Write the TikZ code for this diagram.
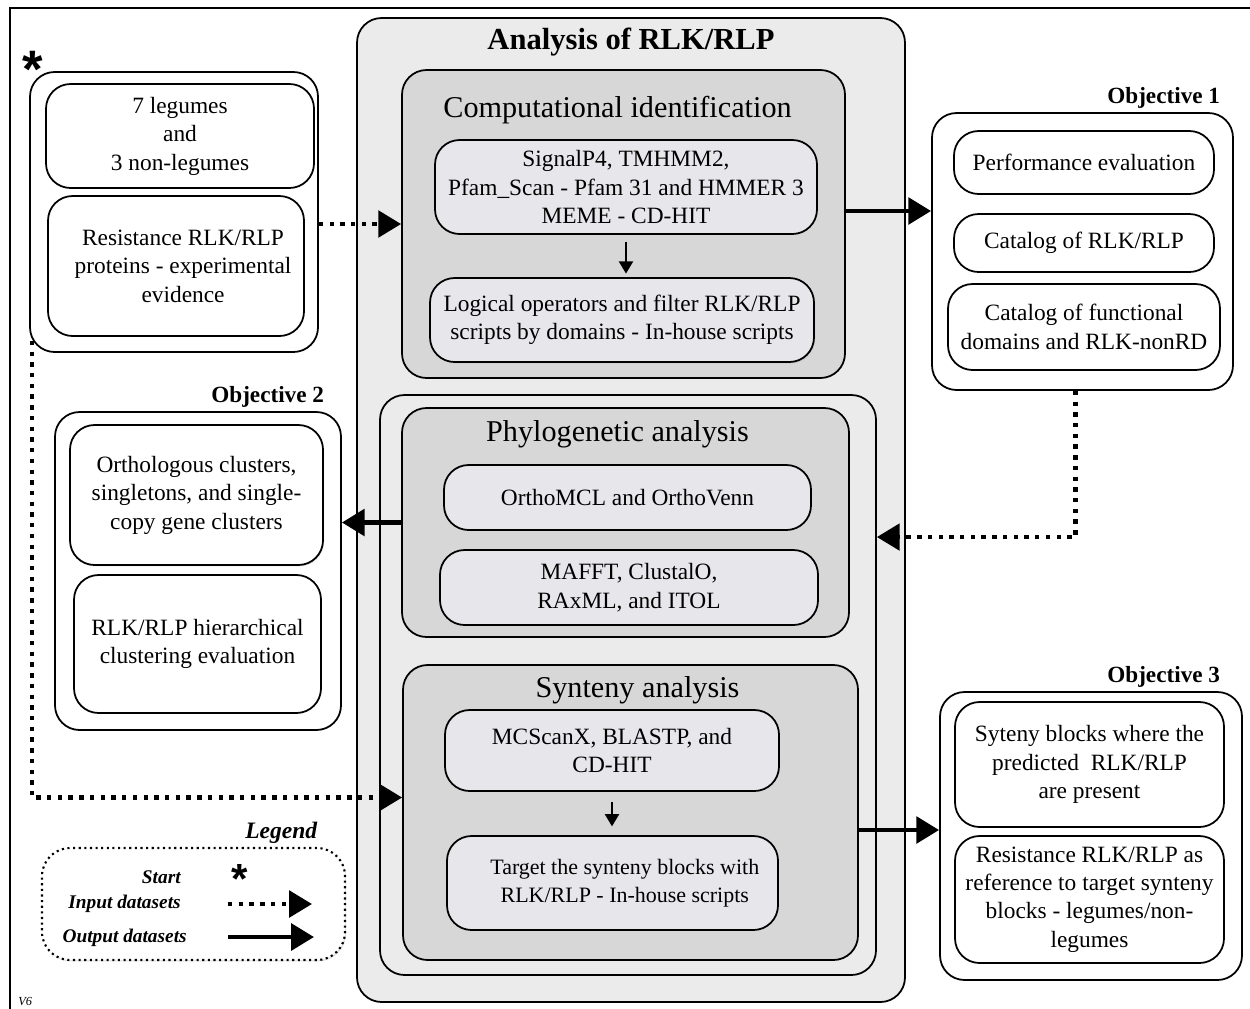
\documentclass[tikz,border=0pt]{standalone}
\usepackage{fontspec}
\setmainfont{Liberation Serif}
\setsansfont{Liberation Sans}
\usetikzlibrary{arrows.meta,shadows}
\definecolor{bigfill}{HTML}{EBEBEB}
\definecolor{secfill}{HTML}{D7D7D7}
\definecolor{toolfill}{HTML}{E7E7EB}

\begin{document}
\begin{tikzpicture}[
    x=0.02cm, y=-0.02cm,
    boxsize/.style 2 args={minimum width=#1*0.02cm, minimum height=#2*0.02cm},
    panel/.style={draw, line width=1pt, rounded corners=14pt, inner sep=0pt, fill=white},
    section/.style={panel, fill=secfill},
    tool/.style={panel, fill=toolfill, align=center, font=\fontsize{13.3}{16.2}\selectfont},
    result/.style={panel, align=center, font=\fontsize{13.3}{16.2}\selectfont},
    sectitle/.style={anchor=north, inner sep=0pt, font=\fontsize{17.2}{20}\selectfont},
    objlabel/.style={anchor=south east, inner sep=2pt, font=\bfseries\fontsize{13.2}{15}\selectfont},
    legitem/.style={anchor=east, inner sep=0pt, font=\bfseries\itshape\fontsize{11}{13}\selectfont},
    starmark/.style={inner sep=0pt, font=\sffamily\bfseries\fontsize{30}{30}\selectfont},
    glow/.style={drop shadow={opacity=0.22, shadow xshift=0.6pt, shadow yshift=-0.8pt}},
    outarrow/.style={line width=2.8pt, -{Triangle[length=13pt, width=15pt]}},
    inarrow/.style={line width=2.5pt, dash pattern=on 2.5pt off 3.6pt, -{Triangle[length=13pt, width=15pt]}},
    steparrow/.style={line width=1.3pt, -{Triangle[length=7pt, width=8pt]}}
]
\useasboundingbox (0,0) rectangle (1250,1008);
\draw[line width=1pt] (10,8) rectangle (1270,1030);

% input datasets
\node[starmark] (start) at (33,69) {*};
\node[panel, boxsize={288}{280}] (inp) at (174,212) {};
\node[result, boxsize={268}{104}] (leg) at (180,136) {7 legumes\\and\\3 non-legumes};
\node[result, boxsize={256}{140}] (res) at (176,266) {\hspace*{8pt}Resistance RLK/RLP\\\hspace*{8pt}proteins - experimental\\\hspace*{8pt}evidence};

% analysis of RLK/RLP
\node[panel, fill=bigfill, boxsize={548}{984}] (big) at (631,510) {};
\node[anchor=north, inner sep=0pt, font=\bfseries\fontsize{17.4}{20}\selectfont] (bigtitle) at ([yshift=-0.2cm]big.north) {Analysis of RLK/RLP};

\node[section, boxsize={443}{308}] (comp) at (623.5,224) {};
\node[sectitle] (comptitle) at ([yshift=-0.54cm,xshift=-0.12cm]comp.north) {Computational identification};
\node[tool, boxsize={382}{94}] (sig) at (626,187) {SignalP4, TMHMM2,\\Pfam\_Scan - Pfam 31 and HMMER 3\\MEME - CD-HIT};
\node[tool, glow, boxsize={384}{84}] (logic) at (622,320) {Logical operators and filter RLK/RLP\\scripts by domains - In-house scripts};

\node[panel, fill=bigfill, boxsize={496}{580}] (mid) at (628,685) {};
\node[section, boxsize={447}{229}] (phy) at (625.5,522.5) {};
\node[sectitle] (phytitle) at ([yshift=-0.27cm,xshift=-0.16cm]phy.north) {Phylogenetic analysis};
\node[tool, boxsize={367}{65}] (omcl) at (627.5,497.5) {OrthoMCL and OrthoVenn};
\node[tool, boxsize={378}{75}] (mafft) at (629,587.5) {MAFFT, ClustalO,\\RAxML, and ITOL};

\node[section, boxsize={455}{295}] (syn) at (630.5,812.5) {};
\node[sectitle] (syntitle) at ([yshift=-0.25cm,xshift=0.14cm]syn.north) {Synteny analysis};
\node[tool, boxsize={334}{81}] (mcs) at (612,750.5) {MCScanX, BLASTP, and\\CD-HIT};
\node[tool, boxsize={331}{94}, font=\fontsize{12.5}{16.2}\selectfont] (tgt) at (612.5,883) {\hspace*{14pt}Target the synteny blocks with\\\hspace*{14pt}RLK/RLP - In-house scripts};

% objective 1
\node[panel, boxsize={301}{277}] (obj1) at (1082.5,251.5) {};
\node[objlabel] (obj1label) at ([xshift=-0.2cm]obj1.north east) {Objective 1};
\node[result, boxsize={260}{63}] (perf) at (1084,162.5) {Performance evaluation};
\node[result, boxsize={260}{58}] (cat) at (1084,243) {Catalog of RLK/RLP};
\node[result, boxsize={272}{86}] (catfun) at (1084,327) {Catalog of functional\\domains and RLK-nonRD};

% objective 2
\node[panel, boxsize={286}{318}] (obj2) at (198,571) {};
\node[objlabel] (obj2label) at ([xshift=-0.28cm]obj2.north east) {Objective 2};
\node[result, glow, boxsize={253}{140}] (ortho) at (196.5,495) {Orthologous clusters,\\singletons, and single-\\copy gene clusters};
\node[result, boxsize={247}{138}] (hier) at (197.5,644) {RLK/RLP hierarchical\\clustering evaluation};

% objective 3
\node[panel, boxsize={302}{288}] (obj3) at (1091,836) {};
\node[objlabel] (obj3label) at ([xshift=-0.38cm]obj3.north east) {Objective 3};
\node[result, boxsize={269}{125}] (syblk) at (1089.5,764.5) {Syteny blocks where the\\predicted\ \ RLK/RLP\\are present};
\node[result, boxsize={269}{127}] (resref) at (1089.5,899.5) {Resistance RLK/RLP as\\reference to target synteny\\blocks - legumes/non-\\legumes};

% connectors
\draw[steparrow, shorten <=4pt, shorten >=2pt] (sig.south) -- (sig.south |- logic.north);
\draw[steparrow, shorten <=6pt, shorten >=5pt] (mcs.south) -- (mcs.south |- tgt.north);
\draw[inarrow] (comp.west -| inp.east) -- (comp.west);
\draw[inarrow] ([xshift=0.06cm, yshift=0.24cm]inp.south west) |- ([yshift=0.3cm]syn.west);
\draw[outarrow] ([yshift=0.26cm]comp.east) -- ([yshift=0.26cm]comp.east -| obj1.west);
\draw[inarrow] ([xshift=-0.14cm]obj1.south) |- ([yshift=2.96cm]mid.east);
\draw[outarrow] (phy.west) -- (phy.west -| obj2.east);
\draw[outarrow] ([yshift=-0.35cm]syn.east) -- ([yshift=-0.35cm]syn.east -| obj3.west);

% legend
\node[draw, dotted, line width=1.2pt, rounded corners=16pt, inner sep=0pt, glow, fill=white, boxsize={303}{112}] (legbox) at (193.5,904) {};
\node[anchor=south east, inner sep=2pt, font=\bfseries\itshape\fontsize{13.4}{15}\selectfont] (legtitle) at ([xshift=-0.5cm]legbox.north east) {Legend};
\node[legitem] (lstart) at (181,877) {Start};
\node[legitem] (linput) at (181,904) {Input datasets};
\node[legitem] (loutput) at (187,938) {Output datasets};
\node[starmark, font=\sffamily\bfseries\fontsize{24}{24}\selectfont] (lstar) at (240,879) {*};
\coordinate (inA) at (228,904);
\coordinate (inB) at (312,904);
\coordinate (outA) at (228,937);
\coordinate (outB) at (314,937);
\draw[inarrow] (inA) -- (inB);
\draw[outarrow] (outA) -- (outB);

\node[anchor=base west, inner sep=0pt, font=\itshape\fontsize{7}{8}\selectfont] (version) at (18,1005) {V6};
\end{tikzpicture}
\end{document}
